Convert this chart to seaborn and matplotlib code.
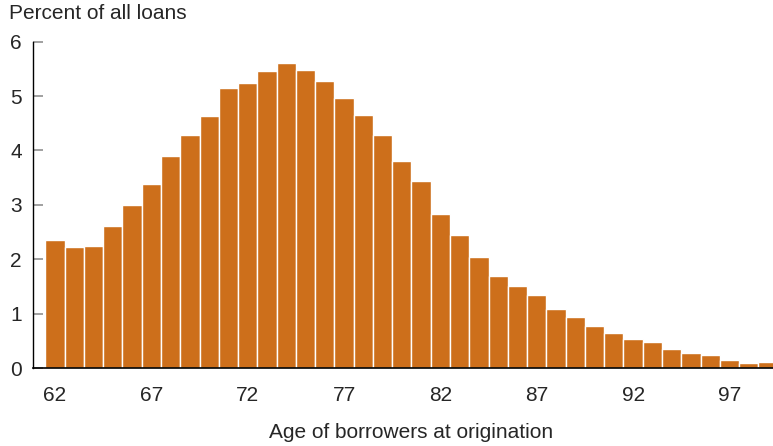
import matplotlib

matplotlib.use("Agg")
import matplotlib.pyplot as plt
import pandas as pd
import seaborn as sns

# Share of reverse-mortgage loans by borrower age at origination (percent)
ages = list(range(62, 100))
percent_of_loans = [
    2.35, 2.22, 2.24, 2.61, 3.00, 3.38, 3.90, 4.29, 4.64, 5.15,
    5.24, 5.46, 5.61, 5.48, 5.27, 4.97, 4.65, 4.28, 3.81, 3.44,
    2.83, 2.45, 2.04, 1.70, 1.51, 1.34, 1.09, 0.94, 0.78, 0.65,
    0.54, 0.47, 0.35, 0.28, 0.23, 0.14, 0.09, 0.11,
]
tick_ages = [62, 67, 72, 77, 82, 87, 92, 97]
y_ticks = [0, 1, 2, 3, 4, 5, 6]

BAR_COLOR = "#CD6F1B"


def main():
    sns.set_style("white")
    plt.rcParams["font.family"] = ["Liberation Sans", "DejaVu Sans"]

    df = pd.DataFrame({"age": ages, "pct": percent_of_loans})

    fig = plt.figure(figsize=(7.73, 4.46), dpi=100)
    ax = fig.add_axes([33 / 773, 78 / 446, 740 / 773, 326.3 / 446])

    sns.barplot(
        data=df,
        x="age",
        y="pct",
        native_scale=True,
        width=1.0,
        color=BAR_COLOR,
        saturation=1,
        edgecolor="white",
        linewidth=1.0,
        ax=ax,
    )

    ax.set_xlim(60.86, 99.26)
    ax.set_ylim(0, 6)

    ax.set_xticks(tick_ages)
    ax.set_xticklabels([str(a) for a in tick_ages], fontsize=15)
    ax.set_yticks(y_ticks)
    ax.set_yticklabels([str(v) for v in y_ticks], fontsize=15)
    ax.tick_params(axis="x", bottom=False, length=0, pad=13)
    ax.tick_params(axis="y", left=True, direction="in", length=7.5, width=1.3,
                   color="#999999", pad=8)

    sns.despine(ax=ax, top=True, right=True)
    ax.spines["left"].set_color("black")
    ax.spines["bottom"].set_color("black")
    ax.spines["left"].set_linewidth(1.0)
    ax.spines["bottom"].set_linewidth(1.2)

    ax.set_ylabel("")
    ax.set_xlabel("Age of borrowers at origination", fontsize=15)
    ax.xaxis.set_label_coords((411 - 33) / 740, -(423 - 368) / 326.3)

    fig.text(9 / 773, 1 - 4 / 446, "Percent of all loans", fontsize=15,
             ha="left", va="top")

    fig.savefig("out.png", dpi=100)
    plt.close(fig)


if __name__ == "__main__":
    main()
